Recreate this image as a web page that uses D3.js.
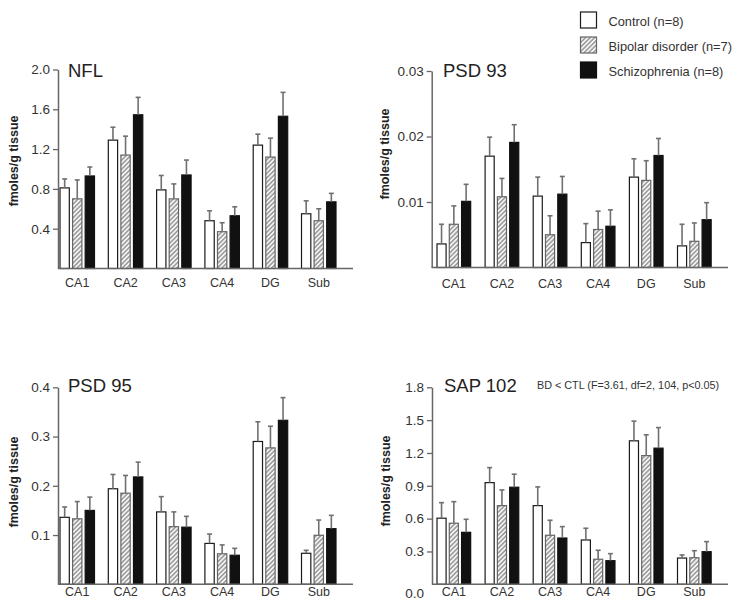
<!DOCTYPE html>
<html>
<head>
<meta charset="utf-8">
<script src="https://cdn.jsdelivr.net/npm/d3@7"></script>
<style>
  html, body { margin: 0; padding: 0; background: #fff; }
  svg { display: block; font-family: "Liberation Sans", Arial, Helvetica, sans-serif; }
</style>
</head>
<body>
<svg id="chart" width="741" height="608"></svg>
<script>
// ---------------- DATA ----------------
const categories = ["CA1", "CA2", "CA3", "CA4", "DG", "Sub"];
const groups = ["Control (n=8)", "Bipolar disorder (n=7)", "Schizophrenia (n=8)"];

// NFL
const nflControl    = [0.81, 1.29, 0.79, 0.48, 1.24, 0.55];
const nflBipolar    = [0.70, 1.14, 0.70, 0.37, 1.12, 0.48];
const nflSchizo     = [0.93, 1.545, 0.94, 0.53, 1.53, 0.67];
const nflControlSem = [0.09, 0.13, 0.145, 0.10, 0.11, 0.13];
const nflBipolarSem = [0.19, 0.19, 0.15, 0.09, 0.19, 0.12];
const nflSchizoSem  = [0.09, 0.175, 0.15, 0.09, 0.24, 0.085];
const nflTicks = [0.4, 0.8, 1.2, 1.6, 2.0];

// PSD 93
const psd93Control    = [0.0036, 0.0170, 0.0109, 0.0038, 0.0138, 0.0033];
const psd93Bipolar    = [0.0066, 0.0108, 0.0050, 0.0058, 0.0133, 0.0040];
const psd93Schizo     = [0.0101, 0.0191, 0.0112, 0.0063, 0.0171, 0.0073];
const psd93ControlSem = [0.0030, 0.0029, 0.0029, 0.0029, 0.0028, 0.0033];
const psd93BipolarSem = [0.0028, 0.0028, 0.0029, 0.0028, 0.0030, 0.0028];
const psd93SchizoSem  = [0.0026, 0.0027, 0.0027, 0.0025, 0.0026, 0.0026];
const psd93Ticks = [0.01, 0.02, 0.03];

// PSD 95
const psd95Control    = [0.136, 0.194, 0.147, 0.083, 0.290, 0.063];
const psd95Bipolar    = [0.133, 0.185, 0.117, 0.062, 0.277, 0.0995];
const psd95Schizo     = [0.150, 0.218, 0.116, 0.059, 0.333, 0.113];
const psd95ControlSem = [0.021, 0.029, 0.031, 0.019, 0.040, 0.006];
const psd95BipolarSem = [0.035, 0.036, 0.030, 0.018, 0.044, 0.031];
const psd95SchizoSem  = [0.027, 0.030, 0.022, 0.014, 0.046, 0.027];
const psd95Ticks = [0.1, 0.2, 0.3, 0.4];

// SAP 102
const sap102Control    = [0.604, 0.929, 0.719, 0.405, 1.311, 0.240];
const sap102Bipolar    = [0.558, 0.719, 0.448, 0.229, 1.176, 0.243];
const sap102Schizo     = [0.475, 0.887, 0.423, 0.216, 1.244, 0.298];
const sap102ControlSem = [0.142, 0.137, 0.171, 0.107, 0.180, 0.028];
const sap102BipolarSem = [0.197, 0.143, 0.137, 0.082, 0.190, 0.064];
const sap102SchizoSem  = [0.119, 0.119, 0.104, 0.064, 0.188, 0.092];
const sap102Ticks = [0.0, 0.3, 0.6, 0.9, 1.2, 1.5, 1.8];

const yLabel = "fmoles/g tissue";
const statNote = "BD < CTL (F=3.61, df=2, 104, p<0.05)";

// ---------------- DRAW ----------------
const svg = d3.select("#chart");
const defs = svg.append("defs");
const pat = defs.append("pattern")
  .attr("id", "hatch")
  .attr("patternUnits", "userSpaceOnUse")
  .attr("width", 3.2).attr("height", 10)
  .attr("patternTransform", "rotate(45)");
pat.append("rect").attr("width", 3.2).attr("height", 10).attr("fill", "#f4f4f4");
pat.append("line").attr("x1", 0.8).attr("y1", 0).attr("x2", 0.8).attr("y2", 10)
  .attr("stroke", "#8a8a8a").attr("stroke-width", 1.3);

const fills   = ["#ffffff", "url(#hatch)", "#111111"];
const strokes = ["#1a1a1a", "#666666", "#111111"];
const axisColor = "#666";

function drawPanel(p) {
  const g = svg.append("g");
  const y = d3.scaleLinear().domain([0, p.yMax]).range([p.base, p.top]);
  const x0 = d3.scaleBand().domain(categories).range(p.xRange).paddingInner(p.padOuterGroup).paddingOuter(0).align(0);
  const x1 = d3.scaleBand().domain(groups).range([0, x0.bandwidth()]).paddingInner(0.26).paddingOuter(0);

  const rows = [];
  categories.forEach((c, i) => {
    groups.forEach((s, j) => {
      rows.push({ cat: c, grp: s, j: j, v: p.means[j][i], e: p.sems[j][i] });
    });
  });

  // bars
  g.selectAll("rect.bar").data(rows).enter().append("rect")
    .attr("class", "bar")
    .attr("x", d => x0(d.cat) + x1(d.grp))
    .attr("y", d => y(d.v))
    .attr("width", x1.bandwidth())
    .attr("height", d => y(0) - y(d.v))
    .attr("fill", d => fills[d.j])
    .attr("stroke", d => strokes[d.j])
    .attr("stroke-width", 1.2);

  // error bars
  const cap = 2.5;
  const eg = g.selectAll("g.err").data(rows).enter().append("g").attr("class", "err")
    .attr("stroke", "#707070").attr("stroke-width", 1.6);
  eg.append("line")
    .attr("x1", d => x0(d.cat) + x1(d.grp) + x1.bandwidth() / 2)
    .attr("x2", d => x0(d.cat) + x1(d.grp) + x1.bandwidth() / 2)
    .attr("y1", d => y(d.v))
    .attr("y2", d => y(d.v + d.e));
  eg.append("line")
    .attr("x1", d => x0(d.cat) + x1(d.grp) + x1.bandwidth() / 2 - cap)
    .attr("x2", d => x0(d.cat) + x1(d.grp) + x1.bandwidth() / 2 + cap)
    .attr("y1", d => y(d.v + d.e))
    .attr("y2", d => y(d.v + d.e));

  // y axis
  const ya = g.append("g").attr("transform", `translate(${p.axisX},0)`)
    .call(d3.axisLeft(y).tickValues(p.ticks).tickSize(5).tickSizeOuter(0).tickPadding(3).tickFormat(d3.format(p.fmt)));
  ya.select(".domain").attr("stroke", axisColor).attr("stroke-width", 1.5);
  ya.selectAll(".tick line").attr("stroke", axisColor).attr("stroke-width", 1.3);
  ya.selectAll(".tick text").attr("fill", "#333").style("font-size", "13.5px")
    .attr("dy", d => d === 0 ? "0.95em" : "0.32em");
  ya.selectAll(".tick").filter(d => d === 0).select("line").remove();

  // baseline
  g.append("line").attr("x1", p.axisX).attr("x2", p.xEnd).attr("y1", p.base).attr("y2", p.base)
    .attr("stroke", axisColor).attr("stroke-width", 1.5);

  // x axis labels
  const xa = g.append("g").attr("transform", `translate(0,${p.base})`)
    .call(d3.axisBottom(x0).tickSize(0).tickPadding(p.labelPad));
  xa.select(".domain").remove();
  xa.selectAll(".tick text").attr("fill", "#333").style("font-size", "12.5px");

  // y label
  g.append("text")
    .attr("transform", `translate(${p.ylx},${p.yly}) rotate(-90)`)
    .attr("text-anchor", "middle")
    .attr("fill", "#222")
    .style("font-size", "12.5px").style("font-weight", "bold")
    .text(yLabel);

  // title
  g.append("text").attr("x", p.titleX).attr("y", p.titleY)
    .attr("fill", "#222").style("font-size", "18.5px").text(p.title);
}

drawPanel({
  title: "NFL", titleX: 68, titleY: 77,
  means: [nflControl, nflBipolar, nflSchizo], sems: [nflControlSem, nflBipolarSem, nflSchizoSem],
  ticks: nflTicks, fmt: ".1f", yMax: 2.0, top: 69.5, base: 268.5,
  axisX: 58, xEnd: 353, xRange: [60, 336], padOuterGroup: 0.286, labelPad: 10,
  ylx: 18, yly: 161
});
drawPanel({
  title: "PSD 93", titleX: 443, titleY: 77,
  means: [psd93Control, psd93Bipolar, psd93Schizo], sems: [psd93ControlSem, psd93BipolarSem, psd93SchizoSem],
  ticks: psd93Ticks, fmt: ".2f", yMax: 0.03, top: 71, base: 267.5,
  axisX: 431.7, xEnd: 728, xRange: [437, 437 + 48.1 * (6 - 0.3)], padOuterGroup: 0.3, labelPad: 12,
  ylx: 388.5, yly: 154
});
drawPanel({
  title: "PSD 95", titleX: 68, titleY: 392,
  means: [psd95Control, psd95Bipolar, psd95Schizo], sems: [psd95ControlSem, psd95BipolarSem, psd95SchizoSem],
  ticks: psd95Ticks, fmt: ".1f", yMax: 0.4, top: 387.3, base: 584.3,
  axisX: 58, xEnd: 353, xRange: [60, 336], padOuterGroup: 0.286, labelPad: 2.5,
  ylx: 18, yly: 482
});
drawPanel({
  title: "SAP 102", titleX: 444, titleY: 392,
  means: [sap102Control, sap102Bipolar, sap102Schizo], sems: [sap102ControlSem, sap102BipolarSem, sap102SchizoSem],
  ticks: sap102Ticks, fmt: ".1f", yMax: 1.8, top: 387.3, base: 584.3,
  axisX: 432, xEnd: 728, xRange: [437, 437 + 48.1 * (6 - 0.3)], padOuterGroup: 0.3, labelPad: 2.5,
  ylx: 390, yly: 481
});

// stat note
svg.append("text").attr("x", 537).attr("y", 389).attr("fill", "#333")
  .style("font-size", "10.8px").text(statNote);

// legend
const leg = svg.append("g").attr("transform", "translate(580.5,12)");
const li = leg.selectAll("g").data(groups).enter().append("g")
  .attr("transform", (d, i) => `translate(0,${i * 25})`);
li.append("rect").attr("width", 16).attr("height", 16)
  .attr("fill", (d, i) => fills[i]).attr("stroke", (d, i) => strokes[i]).attr("stroke-width", 1.2);
li.append("text").attr("x", 28).attr("y", 13.5).attr("fill", "#333")
  .style("font-size", "12.8px").text(d => d);
</script>
</body>
</html>
